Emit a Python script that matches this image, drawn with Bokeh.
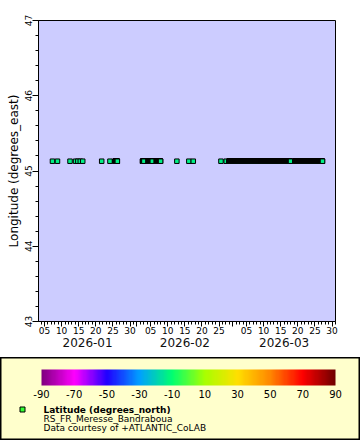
import numpy as np
import pandas as pd
from bokeh.plotting import figure
from bokeh.models import (ColumnDataSource, Range1d, DatetimeAxis, LinearAxis, FixedTicker,
                          SingleIntervalTicker, DatetimeTickFormatter, LinearColorMapper,
                          ColorBar, Label, PrintfTickFormatter)
from bokeh.layouts import column
from bokeh.embed import file_html
from bokeh.resources import INLINE

FONT = "DejaVu Sans"

# ---- data ----
# observation sessions of the station (hourly sampling inside a session)
session_start = ["2026-01-07 08:00", "2026-01-08 19:00", "2026-01-12 11:00", "2026-01-14 02:00",
                 "2026-01-14 18:00", "2026-01-15 11:00", "2026-01-16 04:00", "2026-01-21 17:00",
                 "2026-01-24 03:00", "2026-01-25 14:00", "2026-02-02 15:00", "2026-02-04 07:00",
                 "2026-02-06 16:00", "2026-02-12 16:00", "2026-02-16 04:00", "2026-02-17 11:00",
                 "2026-02-25 13:00", "2026-02-27 02:00", "2026-02-27 21:00", "2026-03-19 04:00"]
session_end = ["2026-01-07 08:00", "2026-01-08 19:00", "2026-01-12 11:00", "2026-01-14 02:00",
               "2026-01-14 18:00", "2026-01-15 11:00", "2026-01-16 04:00", "2026-01-21 17:00",
               "2026-01-24 03:00", "2026-01-26 07:00", "2026-02-03 01:00", "2026-02-05 12:00",
               "2026-02-07 22:00", "2026-02-12 16:00", "2026-02-16 04:00", "2026-02-17 11:00",
               "2026-02-25 13:00", "2026-02-27 02:00", "2026-03-17 21:00", "2026-03-27 05:00"]
sampling_interval = "1h"
station_lon = 45.13
station_lat = -12.70

x_start = "2026-01-03 06:00"
x_end = "2026-03-31 00:00"
y_start, y_end = 43, 47
month_label_at = ["2026-01-17 14:00", "2026-02-15 00:00", "2026-03-16 00:00"]
colorbar_ticks = [-90, -70, -50, -30, -10, 10, 30, 50, 70, 90]

y_label = "Longitude (degrees_east)"
color_label = "Latitude (degrees_north)"
station_name = "RS_FR_Meresse_Bandraboua"
credit = "Data courtesy of +ATLANTIC_CoLAB"

# rainbow palette stops
rainbow_values = [-90, -70, -50, -30, -10, 10, 30, 50, 70, 90]
rainbow_colors = ["#800080", "#ff00ff", "#2000ff", "#00a0ff", "#00ff70",
                  "#a8ff00", "#ffe000", "#ff8800", "#ff0000", "#700000"]


def _rgb(h):
    return [int(h[i:i + 2], 16) for i in (1, 3, 5)]


_stops = np.array([_rgb(c) for c in rainbow_colors], dtype=float)
palette = ["#%02x%02x%02x" % tuple(int(round(np.interp(v, rainbow_values, _stops[:, k]))) for k in range(3))
           for v in np.linspace(-90, 90, 256)]
mapper = LinearColorMapper(palette=palette, low=-90, high=90)

times = []
for s, e in zip(session_start, session_end):
    times.extend(list(pd.date_range(s, e, freq=sampling_interval)))
source = ColumnDataSource(dict(time=times, lon=[station_lon] * len(times), lat=[station_lat] * len(times)))


def ms(t):
    return int((pd.Timestamp(t) - pd.Timestamp("1970-01-01")) // pd.Timedelta("1ms"))


# ---- main figure ----
p = figure(width=360, height=357, output_backend="svg", toolbar_location=None, tools="",
           x_axis_type=None, y_axis_type=None,
           x_range=Range1d(pd.Timestamp(x_start), pd.Timestamp(x_end)),
           y_range=Range1d(y_start, y_end),
           min_border_left=38, min_border_right=25, min_border_top=20, min_border_bottom=36,
           background_fill_color="#ccccff", border_fill_color="white",
           outline_line_color="black", outline_line_width=1)
p.grid.visible = False

major_days = []
for m, ndays in ((1, 31), (2, 28), (3, 31)):
    for d in (1, 5, 10, 15, 20, 25, 30):
        if d <= ndays:
            major_days.append(pd.Timestamp(2026, m, d))
minor_days = list(pd.date_range("2026-01-01", "2026-04-01", freq="D"))
overrides = {ms(t): "" for t in major_days if t.day == 1}

fmt_fields = ["microseconds", "milliseconds", "seconds", "minsec", "minutes", "hourmin",
              "hours", "days", "months", "years"]
fmt_day = DatetimeTickFormatter(**{f: "%d" for f in fmt_fields})
fmt_month = DatetimeTickFormatter(**{f: "%Y-%m" for f in fmt_fields})

xa = DatetimeAxis(ticker=FixedTicker(ticks=[ms(t) for t in major_days], minor_ticks=[ms(t) for t in minor_days]),
                  formatter=fmt_day, major_label_overrides=overrides,
                  major_tick_out=5, major_tick_in=0, minor_tick_out=3, minor_tick_in=0,
                  major_label_standoff=0, major_label_text_font=FONT, major_label_text_font_size="9px",
                  major_label_text_color="black", axis_line_color="black",
                  major_tick_line_color="black", minor_tick_line_color="black")
p.add_layout(xa, "below")

ma = DatetimeAxis(ticker=FixedTicker(ticks=[ms(t) for t in month_label_at], minor_ticks=[]),
                  formatter=fmt_month, major_tick_line_color=None, minor_tick_line_color=None,
                  axis_line_color=None, major_tick_out=0, major_tick_in=0, minor_tick_out=0, minor_tick_in=0,
                  major_label_standoff=1, major_label_text_font=FONT, major_label_text_font_size="12px",
                  major_label_text_font_style="normal", major_label_text_color="#111111")
p.add_layout(ma, "below")

ya = LinearAxis(ticker=SingleIntervalTicker(interval=1, num_minor_ticks=5),
                axis_label=y_label, axis_label_text_font=FONT, axis_label_text_font_size="12px",
                axis_label_text_font_style="normal", axis_label_text_color="black", axis_label_standoff=1,
                major_label_orientation="vertical", major_label_standoff=1,
                major_label_text_font=FONT, major_label_text_font_size="9px", major_label_text_color="black",
                major_tick_out=6, major_tick_in=0, minor_tick_out=3, minor_tick_in=0,
                axis_line_color="black", major_tick_line_color="black", minor_tick_line_color="black")
p.add_layout(ya, "left")

p.scatter("time", "lon", source=source, marker="square", size=4.5,
          fill_color={"field": "lat", "transform": mapper}, line_color="black", line_width=1)

# ---- legend panel ----
lg = figure(width=360, height=83, output_backend="svg", toolbar_location=None, tools="",
            x_axis_type=None, y_axis_type=None,
            x_range=Range1d(0, 360), y_range=Range1d(83, 0),
            min_border_left=0, min_border_right=0, min_border_top=0, min_border_bottom=0,
            background_fill_color="#ffffcc", border_fill_color="#ffffcc",
            outline_line_color="black", outline_line_width=2)
lg.grid.visible = False
for fig in (p, lg):
    try:
        fig.frame_align = False
    except AttributeError:
        pass

cb = ColorBar(color_mapper=mapper, orientation="horizontal", location=(41, 40), width=294, height=16,
              padding=0, ticker=FixedTicker(ticks=colorbar_ticks), formatter=PrintfTickFormatter(format="%d"),
              major_tick_line_color=None, minor_tick_line_color=None, bar_line_color=None,
              border_line_color=None, background_fill_alpha=0, label_standoff=4,
              major_label_text_font=FONT, major_label_text_font_size="10px", major_label_text_color="black")
lg.add_layout(cb, "center")

lg.scatter(x=[22], y=[52], marker="square", size=5, fill_color="#33ff33", line_color="black", line_width=1)
lg.add_layout(Label(x=43, y=52, text=color_label, text_font=FONT, text_font_size="9px",
                    text_font_style="bold", text_baseline="middle", text_color="black"))
lg.add_layout(Label(x=43, y=61, text=station_name, text_font=FONT, text_font_size="9px",
                    text_baseline="middle", text_color="black"))
lg.add_layout(Label(x=43, y=70, text=credit, text_font=FONT, text_font_size="9px",
                    text_baseline="middle", text_color="black"))

layout = column(p, lg, spacing=0)
open("out.html", "w").write(file_html(layout, INLINE))
